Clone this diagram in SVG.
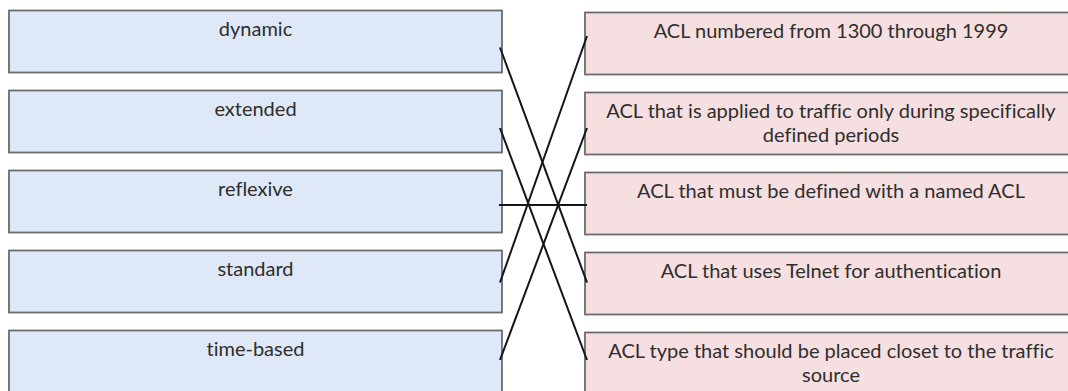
<svg xmlns="http://www.w3.org/2000/svg" width="1068" height="391" viewBox="0 0 1068 391">
<style>
.l{fill:#dfe8f6;stroke:#6b6b6b;stroke-width:1.8}
.r{fill:#f6dfe0;stroke:#6b6b6b;stroke-width:1.8}
text{font-family:Lato,"Open Sans","Liberation Sans",sans-serif;font-size:20px;fill:#2e2e2e;text-anchor:middle;font-variant-ligatures:none}
.c line{stroke:#151515;stroke-width:2}
</style>
<rect width="1068" height="391" fill="#fff"/>
<g id="left-dynamic"><rect class="l" x="9" y="10.5" width="493" height="62"/><text x="255.5" y="36">dynamic</text></g>
<g id="left-extended"><rect class="l" x="9" y="90.5" width="493" height="62"/><text x="255.5" y="116">extended</text></g>
<g id="left-reflexive"><rect class="l" x="9" y="170.5" width="493" height="62"/><text x="255.5" y="196">reflexive</text></g>
<g id="left-standard"><rect class="l" x="9" y="250.5" width="493" height="62"/><text x="255.5" y="276">standard</text></g>
<g id="left-time-based"><rect class="l" x="9" y="330.5" width="493" height="62"/><text x="255.5" y="356">time-based</text></g>
<g id="right-numbered"><rect class="r" x="585" y="12.5" width="490" height="62"/><text x="831" y="38">ACL numbered from 1300 through 1999</text></g>
<g id="right-time"><rect class="r" x="585" y="92.5" width="490" height="62"/><text x="831" y="118">ACL that is applied to traffic only during  specifically</text><text x="831" y="142">defined periods</text></g>
<g id="right-named"><rect class="r" x="585" y="172.5" width="490" height="62"/><text x="831" y="198">ACL that must be defined with a named ACL</text></g>
<g id="right-telnet"><rect class="r" x="585" y="252.5" width="490" height="62"/><text x="831" y="278">ACL that uses Telnet for authentication</text></g>
<g id="right-closest"><rect class="r" x="585" y="332.5" width="490" height="62"/><text x="831" y="358">ACL type that should be placed closet to the traffic</text><text x="831" y="382">source</text></g>
<g id="connectors" class="c">
<line x1="500" y1="47.5" x2="587" y2="282.5"/>
<line x1="500" y1="128" x2="587" y2="360"/>
<line x1="499" y1="205" x2="587" y2="205"/>
<line x1="500" y1="282.5" x2="587" y2="36"/>
<line x1="500" y1="360" x2="587" y2="128"/>
</g>
</svg>
